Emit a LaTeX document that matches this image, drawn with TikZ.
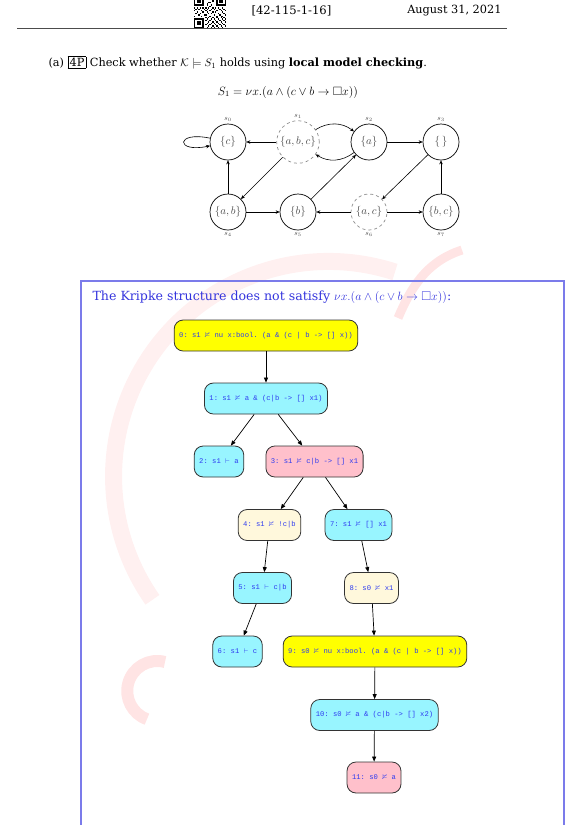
\documentclass[tikz,border=0pt]{standalone}
\usepackage{amssymb}
\usepackage{fontspec}
\setmainfont{DejaVu Serif}
\setmonofont{Liberation Mono}
\usetikzlibrary{arrows.meta, positioning, calc}

\definecolor{kbox}{HTML}{7B7BEA}
\definecolor{ktitle}{HTML}{3434DD}
\definecolor{gvyellow}{HTML}{FFFF00}
\definecolor{gvcyan}{HTML}{98F5FF}
\definecolor{gvpink}{HTML}{FFC0CB}
\definecolor{gvsilk}{HTML}{FFF8DC}
\definecolor{gvtext}{HTML}{2E3BF0}
\definecolor{wmark}{HTML}{FFF0F0}
\definecolor{wmarkdark}{HTML}{FFE4E4}

\newcommand{\qrfinder}[2]{%
  \fill (#1,#2) rectangle ++(9.8,-9.8);
  \fill[white] (#1+1.4,#2-1.4) rectangle ++(7,-7);
  \fill (#1+2.8,#2-2.8) rectangle ++(4.2,-4.2);}

\begin{document}
\begin{tikzpicture}[x=1pt, y=1pt,
    state/.style={circle, draw, line width=0.7pt, minimum size=36pt, inner sep=2pt, font=\fontsize{11}{11}\selectfont, text=black!70},
    ghost/.style={state, draw=black!45, dashed},
    slabel/.style={font=\fontsize{7}{7}\selectfont, text=black!70, inner sep=2pt},
    trans/.style={-{Stealth[length=4pt,width=3.5pt]}, line width=0.6pt},
    proofnode/.style={draw=black!80, line width=0.8pt, rounded corners=9pt, minimum height=31pt, inner xsep=5pt, font=\ttfamily\fontsize{7.2}{8}\selectfont, text=gvtext},
    fixnode/.style={proofnode, fill=gvyellow},
    holdnode/.style={proofnode, fill=gvcyan},
    failnode/.style={proofnode, fill=gvpink},
    negnode/.style={proofnode, fill=gvsilk},
    treearrow/.style={-{Triangle[length=5pt,width=4pt]}, line width=0.7pt}
]
\useasboundingbox (0,0) rectangle (582,-825);
\clip (0,0) rectangle (582,-825);

\draw[wmark, line width=17pt] (395,-272) arc[start angle=72, end angle=215, radius=215];
\draw[wmarkdark, line width=12pt] (165,-662) arc[start angle=75, end angle=250, radius=30];
\draw[wmarkdark, line width=9pt] (398,-318) .. controls (410,-290) and (425,-262) .. (462,-250);

\qrfinder{194}{4}
\qrfinder{216.4}{4}
\qrfinder{194}{-18.4}
\foreach \i/\j in {9/0,11/0,12/1,9/2,10/2,13/3,10/4,11/4,9/5,12/6,9/6,11/7,
    0/8,2/8,4/8,6/8,8/8,10/8,13/8,15/8,17/8,20/8,1/9,3/9,7/9,9/9,12/9,14/9,18/9,21/9,
    0/10,5/10,8/10,11/10,16/10,19/10,22/10,2/11,6/11,9/11,13/11,15/11,20/11,
    1/12,4/12,10/12,12/12,17/12,21/12,3/13,7/13,8/13,14/13,18/13,22/13,
    0/14,5/14,11/14,16/14,19/14,20/14,8/15,10/15,13/15,16/15,19/15,21/15,
    9/16,12/16,14/16,17/16,20/16,22/16,8/17,11/17,15/17,18/17,21/17,
    10/18,13/18,16/18,19/18,22/18,9/19,12/19,14/19,17/19,20/19,
    8/20,11/20,15/20,18/20,21/20,10/21,13/21,16/21,19/21,22/21,9/22,12/22,14/22,17/22,20/22}
  \fill (194+\i*1.4,4-\j*1.4) rectangle ++(1.4,-1.4);

\node[anchor=west, font=\fontsize{11.6}{13}\selectfont] (docid) at (248,-11) {[42-115-1-16]};
\node[anchor=east, font=\fontsize{11.3}{13}\selectfont] (docdate) at (505,-11) {August 31, 2021};
\draw[black!70, line width=0.8pt] (17,-28.5) -- (507,-28.5);

\node[anchor=west, font=\fontsize{11.3}{13}\selectfont] (task) at (45,-63)
  {(a) \setlength\fboxsep{1.5pt}\fbox{4P} Check whether $\mathcal{K}\models S_1$ holds using \textbf{local model checking}.};
\node[font=\fontsize{12}{13}\selectfont] (spec) at (288,-92) {$S_1=\nu x.(a\wedge(c\vee b\rightarrow\Box x))$};

\node[state, label={[slabel]above:$s_0$}] (s0) at (228,-142) {$\{c\}$};
\node[ghost, label={[slabel]above:$s_1$}] (s1) at (298,-142) {$\{a,b,c\}$};
\node[state, label={[slabel]above:$s_2$}] (s2) at (369,-142) {$\{a\}$};
\node[state, label={[slabel]above:$s_3$}] (s3) at (441,-142) {$\{\,\}$};
\node[state, label={[slabel]below:$s_4$}] (s4) at (228,-212) {$\{a,b\}$};
\node[state, label={[slabel]below:$s_5$}] (s5) at (298,-212) {$\{b\}$};
\node[ghost, label={[slabel]below:$s_6$}] (s6) at (369,-212) {$\{a,c\}$};
\node[state, label={[slabel]below:$s_7$}] (s7) at (441,-212) {$\{b,c\}$};

\draw[trans] (s0) to[out=168, in=192, looseness=12] (s0);
\draw[trans] (s1) -- (s0);
\draw[trans] (s1) to[bend left=35] (s2);
\draw[trans] (s2) to[bend left=35] (s1);
\draw[trans] (s2) -- (s3);
\draw[trans] (s4) -- (s0);
\draw[trans] (s1) -- (s4);
\draw[trans] (s4) -- (s5);
\draw[trans] (s5) -- (s2);
\draw[trans] (s6) -- (s5);
\draw[trans] (s6) -- (s7);
\draw[trans] (s3) -- (s6);
\draw[trans] (s7) -- (s3);

\draw[kbox, line width=1.2pt] (81,-281) rectangle (564,-860);
\node[anchor=west, text=ktitle, font=\fontsize{12.6}{14}\selectfont] (verdict) at (89,-297)
  {The Kripke structure does not satisfy $\nu x.(a\wedge(c\vee b\rightarrow\Box x))$:};

\node[fixnode] (g0) at (266,-335.5) {0: s1 $\nvDash$ nu x:bool. (a \& (c | b -> [] x))};
\node[holdnode] (g1) at (266,-398.5) {1: s1 $\nvDash$ a \& (c|b -> [] x1)};
\node[holdnode] (g2) at (219,-461.5) {2: s1 $\vdash$ a};
\node[failnode] (g3) at (314.5,-461.5) {3: s1 $\nvDash$ c|b -> [] x1};
\node[negnode] (g4) at (269.5,-525) {4: s1 $\nvDash$ !c|b};
\node[holdnode] (g7) at (358.5,-525) {7: s1 $\nvDash$ [] x1};
\node[holdnode] (g5) at (262.5,-588) {5: s1 $\vdash$ c|b};
\node[negnode] (g8) at (371.5,-588) {8: s0 $\nvDash$ x1};
\node[holdnode] (g6) at (237.5,-651.5) {6: s1 $\vdash$ c};
\node[fixnode] (g9) at (375,-651.5) {9: s0 $\nvDash$ nu x:bool. (a \& (c | b -> [] x))};
\node[holdnode] (g10) at (374.5,-715) {10: s0 $\nvDash$ a \& (c|b -> [] x2)};
\node[failnode] (g11) at (374,-777.5) {11: s0 $\nvDash$ a};

\draw[treearrow] (g0) -- (g1);
\draw[treearrow] (g1) -- (g2);
\draw[treearrow] (g1) -- (g3);
\draw[treearrow] (g3) -- (g4);
\draw[treearrow] (g3) -- (g7);
\draw[treearrow] (g4) -- (g5);
\draw[treearrow] (g5) -- (g6);
\draw[treearrow] (g7) -- (g8);
\draw[treearrow] (g8) -- (g9);
\draw[treearrow] (g9) -- (g10);
\draw[treearrow] (g10) -- (g11);
\end{tikzpicture}
\end{document}
